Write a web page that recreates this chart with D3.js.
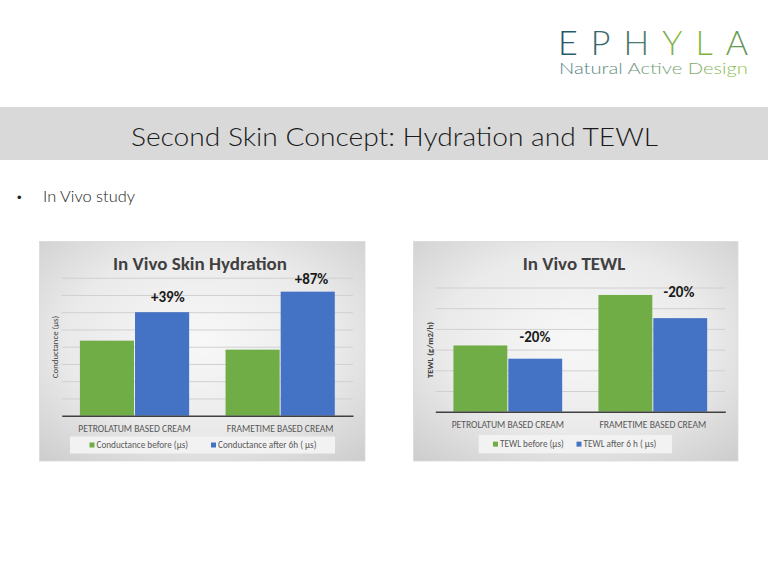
<!DOCTYPE html>
<html>
<head>
<meta charset="utf-8">
<script src="https://cdn.jsdelivr.net/npm/d3@7"></script>
<style>
  html, body { margin: 0; padding: 0; background: #ffffff; }
  svg { display: block; }
</style>
</head>
<body>
<svg id="chart" width="768" height="576"></svg>
<script>
// ---------- DATA ----------
const categories = ["PETROLATUM BASED CREAM", "FRAMETIME BASED CREAM"];

const hydrationSeries = ["Conductance before (µs)", "Conductance after 6h ( µs)"];
const hydrationBefore = [43.5, 38.3];
const hydrationAfter = [60.0, 71.9];
const hydrationChange = ["+39%", "+87%"];
const hydrationTicks = [0, 10, 20, 30, 40, 50, 60, 70, 80];

const tewlSeries = ["TEWL before (µs)", "TEWL after 6 h ( µs)"];
const tewlBefore = [16.0, 28.2];
const tewlAfter = [12.8, 22.6];
const tewlChange = ["-20%", "-20%"];
const tewlTicks = [0, 5, 10, 15, 20, 25, 30];

// ---------- PAGE ----------
const svg = d3.select("#chart");
const defs = svg.append("defs");
const GREEN = "#70ad47", BLUE = "#4472c4";
const CAL = "Carlito, 'Liberation Sans Narrow', Lato, 'Liberation Sans', Arial, sans-serif";
const GOTHIC = "Lato, 'Open Sans', 'DejaVu Sans', sans-serif";

// logo gradients
const lg = defs.append("linearGradient").attr("id", "logoGrad")
  .attr("gradientUnits", "userSpaceOnUse").attr("x1", 558).attr("x2", 748).attr("y1", 0).attr("y2", 0);
lg.append("stop").attr("offset", "0%").attr("stop-color", "#1f5566");
lg.append("stop").attr("offset", "45%").attr("stop-color", "#4e7d6a");
lg.append("stop").attr("offset", "65%").attr("stop-color", "#8cc43c");
lg.append("stop").attr("offset", "100%").attr("stop-color", "#5f8f5a");
const lg2 = defs.append("linearGradient").attr("id", "logoGrad2")
  .attr("gradientUnits", "userSpaceOnUse").attr("x1", 558).attr("x2", 748).attr("y1", 0).attr("y2", 0);
lg2.append("stop").attr("offset", "0%").attr("stop-color", "#4d7a82");
lg2.append("stop").attr("offset", "60%").attr("stop-color", "#7aa276");
lg2.append("stop").attr("offset", "100%").attr("stop-color", "#8cc043");

// panel gradient
const rg = defs.append("radialGradient").attr("id", "panelGrad")
  .attr("cx", "50%").attr("cy", "45%").attr("r", "75%");
rg.append("stop").attr("offset", "0%").attr("stop-color", "#f8f8f8");
rg.append("stop").attr("offset", "55%").attr("stop-color", "#eaeaea");
rg.append("stop").attr("offset", "100%").attr("stop-color", "#cccccc");

// logo
svg.append("text").attr("x", 558).attr("y", 55)
  .attr("textLength", 190).attr("lengthAdjust", "spacing")
  .style("font-family", GOTHIC).style("font-weight", 300).style("font-size", "34px")
  .attr("fill", "url(#logoGrad)").text("EPHYLA");
svg.append("text").attr("x", 559).attr("y", 74)
  .attr("textLength", 189).attr("lengthAdjust", "spacingAndGlyphs")
  .style("font-family", GOTHIC).style("font-weight", 300).style("font-size", "15.5px")
  .attr("fill", "url(#logoGrad2)").text("Natural Active Design");

// title band
svg.append("rect").attr("x", 0).attr("y", 107).attr("width", 768).attr("height", 53).attr("fill", "#d9d9d9");
svg.append("text").attr("x", 131).attr("y", 146)
  .attr("textLength", 527).attr("lengthAdjust", "spacingAndGlyphs")
  .style("font-family", GOTHIC).style("font-weight", 300).style("font-size", "26px")
  .attr("fill", "#1a1a1a").text("Second Skin Concept: Hydration and TEWL");

// bullet
svg.append("text").attr("x", 17).attr("y", 202)
  .style("font-family", "Arial, sans-serif").style("font-size", "13px").attr("fill", "#222").text("•");
svg.append("text").attr("x", 43).attr("y", 202)
  .attr("textLength", 92).attr("lengthAdjust", "spacingAndGlyphs")
  .style("font-family", GOTHIC).style("font-weight", 300).style("font-size", "15px")
  .attr("fill", "#1a1a1a").text("In Vivo study");

// ---------- CHART FUNCTION ----------
function drawChart(cfg) {
  const g = svg.append("g");
  g.append("rect").attr("x", cfg.panel[0]).attr("y", cfg.panel[1])
    .attr("width", cfg.panel[2]).attr("height", cfg.panel[3])
    .attr("fill", "url(#panelGrad)").attr("stroke", "#d9d9d9").attr("stroke-width", 0.75);

  const x0 = d3.scaleBand().domain(categories).range([cfg.plot.left, cfg.plot.right])
    .paddingInner(0.25).paddingOuter(0.125);
  const x1 = d3.scaleBand().domain([0, 1]).range([0, x0.bandwidth()]).padding(0);
  const y = d3.scaleLinear().domain([0, cfg.ticks[cfg.ticks.length - 1]])
    .range([cfg.plot.bottom, cfg.plot.top]);

  // gridlines via axis
  const grid = g.append("g").attr("transform", `translate(${cfg.plot.left},0)`)
    .call(d3.axisLeft(y).tickValues(cfg.ticks.slice(1))
      .tickSize(-(cfg.plot.right - cfg.plot.left)).tickFormat(""));
  grid.select(".domain").remove();
  grid.selectAll(".tick line").attr("stroke", "#d0d0d0").attr("stroke-width", 1);

  // bars
  const rows = categories.map((c, i) => ({ c, vals: [cfg.before[i], cfg.after[i]] }));
  const grp = g.selectAll(".grp").data(rows).enter().append("g")
    .attr("transform", d => `translate(${x0(d.c)},0)`);
  grp.selectAll("rect").data(d => d.vals).enter().append("rect")
    .attr("x", (d, j) => x1(j) + (j === 1 ? 0.5 : 0))
    .attr("width", x1.bandwidth() - 0.5)
    .attr("y", d => y(d)).attr("height", d => y(0) - y(d))
    .attr("fill", (d, j) => j === 0 ? GREEN : BLUE);

  // x axis
  const xa = g.append("g").attr("transform", `translate(0,${cfg.plot.bottom})`)
    .call(d3.axisBottom(x0).tickSize(0).tickPadding(cfg.catPad));
  xa.select(".domain").attr("stroke", "#404040").attr("stroke-width", 1.5);
  xa.selectAll("text").style("font-family", CAL).style("font-size", "9.6px").attr("fill", "#595959");

  // change labels
  g.selectAll(".chg").data(cfg.change).enter().append("text")
    .attr("x", (d, i) => x0(categories[i]) + x1(1) + x1.bandwidth() / 2 + cfg.labelDx[i])
    .attr("y", (d, i) => y(cfg.after[i]) - cfg.labelDy[i])
    .attr("text-anchor", "middle")
    .style("font-family", CAL).style("font-weight", "bold").style("font-size", "15px")
    .attr("fill", "#1a1a1a").text(d => d);

  // title
  g.append("text").attr("x", cfg.titleX).attr("y", cfg.panel[1] + 28).attr("text-anchor", "middle")
    .style("font-family", CAL).style("font-weight", "bold").style("font-size", "19px")
    .attr("fill", "#404040").text(cfg.title);

  // y title
  g.append("text").attr("transform", `translate(${cfg.yTitleX},${cfg.yTitleY}) rotate(-90)`)
    .attr("text-anchor", "middle")
    .style("font-family", CAL).style("font-weight", cfg.yTitleBold ? "bold" : "normal").style("font-size", "8.8px")
    .attr("fill", "#404040").text(cfg.yTitle);

  // legend
  const L = cfg.legend;
  g.append("rect").attr("x", L.x).attr("y", L.y).attr("width", L.w).attr("height", L.h).attr("fill", "#f2f2f2");
  cfg.series.forEach((s, j) => {
    g.append("rect").attr("x", L.items[j]).attr("y", L.y + L.h / 2 - 2.5).attr("width", 5).attr("height", 5)
      .attr("fill", j === 0 ? GREEN : BLUE);
    g.append("text").attr("x", L.items[j] + 7).attr("y", L.y + L.h / 2 + 3)
      .style("font-family", CAL).style("font-size", "9.2px").attr("fill", "#595959").text(s);
  });
}

drawChart({
  panel: [39.5, 241.5, 325.5, 219.5],
  plot: { left: 61.7, right: 353, top: 277.7, bottom: 415.7 },
  ticks: hydrationTicks,
  before: hydrationBefore, after: hydrationAfter, change: hydrationChange,
  labelDx: [6, 4], labelDy: [10, 8],
  title: "In Vivo Skin Hydration", titleX: 200,
  yTitle: "Conductance  (µs)", yTitleX: 58, yTitleY: 347, yTitleBold: false,
  series: hydrationSeries,
  legend: { x: 70, y: 436.5, w: 265, h: 17, items: [89.5, 211] },
  catPad: 9
});

drawChart({
  panel: [413.5, 241.5, 324.5, 219.5],
  plot: { left: 435.3, right: 725.3, top: 287.5, bottom: 411.7 },
  ticks: tewlTicks,
  before: tewlBefore, after: tewlAfter, change: tewlChange,
  labelDx: [0, -1], labelDy: [17, 21],
  title: "In Vivo TEWL", titleX: 574,
  yTitle: "TEWL (g/m2/h)", yTitleX: 433, yTitleY: 350, yTitleBold: true,
  series: tewlSeries,
  legend: { x: 478.7, y: 435, w: 193.3, h: 18.3, items: [493, 576.5] },
  catPad: 9
});
</script>
</body>
</html>
